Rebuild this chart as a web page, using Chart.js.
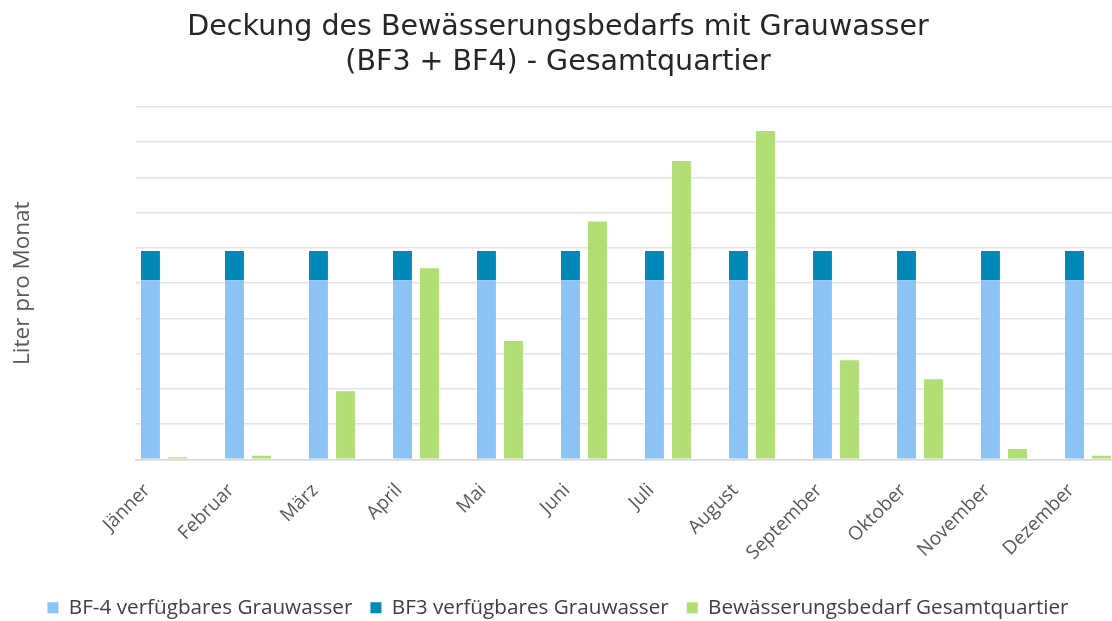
<!DOCTYPE html>
<html>
<head>
<meta charset="utf-8">
<script src="https://cdn.jsdelivr.net/npm/chart.js@4.4.1/dist/chart.umd.min.js"></script>
<style>
  html, body { margin: 0; padding: 0; background: #ffffff; overflow: hidden; }
  #wrap { width: 1112px; height: 621px; position: relative; }
</style>
</head>
<body>
<div id="wrap"><canvas id="c" width="1112" height="621"></canvas></div>
<script>
const months = ["Jänner", "Februar", "März", "April", "Mai", "Juni", "Juli", "August", "September", "Oktober", "November", "Dezember"];
const bf4Values = [5.08, 5.08, 5.08, 5.08, 5.08, 5.08, 5.08, 5.08, 5.08, 5.08, 5.08, 5.08];
const bf3Values = [0.83, 0.83, 0.83, 0.83, 0.83, 0.83, 0.83, 0.83, 0.83, 0.83, 0.83, 0.83];
const demandValues = [0.06, 0.10, 1.93, 5.42, 3.36, 6.75, 8.47, 9.32, 2.81, 2.27, 0.29, 0.10];
const seriesNames = ["BF-4 verfügbares Grauwasser", "BF3 verfügbares Grauwasser", "Bewässerungsbedarf Gesamtquartier"];
const titleLines = ["Deckung des Bewässerungsbedarfs mit Grauwasser", "(BF3 + BF4) - Gesamtquartier"];
const yTitle = "Liter pro Monat";

const toPoints = arr => arr.map((v, i) => ({ x: i, y: v }));

new Chart(document.getElementById('c'), {
  type: 'bar',
  data: {
    datasets: [
      { label: seriesNames[0], data: toPoints(bf4Values), backgroundColor: '#8BC3F5', stack: 'avail',
        categoryPercentage: 0.643, barPercentage: 0.70 },
      { label: seriesNames[1], data: toPoints(bf3Values), backgroundColor: '#0089B7', stack: 'avail',
        categoryPercentage: 0.643, barPercentage: 0.70 },
      { label: seriesNames[2], data: toPoints(demandValues), backgroundColor: '#B1DF76', stack: 'demand',
        categoryPercentage: 0.643, barPercentage: 0.70 }
    ]
  },
  options: {
    responsive: false,
    animation: false,
    events: [],
    layout: { padding: { left: 4, right: 0, top: 4, bottom: -7 } },
    plugins: {
      title: {
        display: true,
        text: titleLines,
        color: '#262626',
        font: { family: 'DejaVu Sans', size: 28.5, weight: 'normal', lineHeight: 1.25 },
        padding: { top: 5.5, bottom: 26.25 }
      },
      legend: {
        position: 'bottom',
        labels: {
          color: '#404040',
          font: { family: 'Open Sans', size: 20.7, lineHeight: 1.16 },
          boxWidth: 11, boxHeight: 11,
          padding: 18
        }
      },
      tooltip: { enabled: false }
    },
    scales: {
      x: {
        type: 'linear',
        stacked: true,
        min: -0.333,
        max: 11.286,
        offset: false,
        grid: { display: false, drawTicks: false },
        border: { display: true, color: '#d9d9d9', width: 1.5 },
        afterBuildTicks: (scale) => {
          scale.ticks = months.map((m, i) => ({ value: i - 0.2 }));
        },
        afterFit: (scale) => { scale.height = 120; },
        ticks: {
          autoSkip: false,
          maxRotation: 45,
          minRotation: 45,
          padding: 20,
          color: '#595959',
          font: { family: 'Open Sans', size: 19 },
          callback: (value, index) => months[index]
        }
      },
      y: {
        stacked: true,
        min: 0,
        max: 10,
        ticks: { display: false, stepSize: 1 },
        grid: { color: '#e1e4e4', lineWidth: 1.5, drawTicks: false },
        border: { display: false },
        title: {
          display: true,
          text: yTitle,
          color: '#595959',
          font: { family: 'Open Sans', size: 22.5, lineHeight: 1.2 },
          padding: { top: 5, bottom: 100 }
        }
      }
    }
  }
});
</script>
</body>
</html>
